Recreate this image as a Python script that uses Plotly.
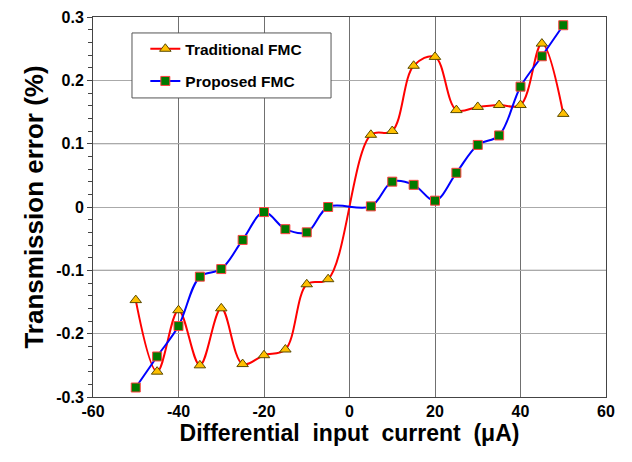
import plotly.graph_objects as go

x_vals = [-50, -45, -40, -35, -30, -25, -20, -15, -10, -5, 5, 10, 15, 20, 25, 30, 35, 40, 45, 50]
traditional = [-0.147, -0.26, -0.163, -0.25, -0.16, -0.248, -0.234, -0.225, -0.122, -0.114,
               0.114, 0.12, 0.223, 0.237, 0.153, 0.158, 0.161, 0.161, 0.258, 0.147]
proposed = [-0.285, -0.236, -0.188, -0.11, -0.098, -0.052, -0.008, -0.035, -0.04, 0.0,
            0.001, 0.04, 0.035, 0.01, 0.054, 0.098, 0.113, 0.19, 0.238, 0.287]

x_ticks = [-60, -40, -20, 0, 20, 40, 60]
y_ticks = [-0.3, -0.2, -0.1, 0, 0.1, 0.2, 0.3]
y_labels = ["-0.3", "-0.2", "-0.1", "0", "0.1", "0.2", "0.3"]
dark_y_grid = [-0.1, 0.1]

font_family = "Liberation Sans, Arial, sans-serif"

fig = go.Figure()
fig.add_trace(go.Scatter(
    x=x_vals, y=traditional, name="Traditional FMC", mode="lines+markers",
    legendgroup="a",
    line=dict(color="#FF0000", width=2, shape="spline", smoothing=1.0),
    marker=dict(symbol="triangle-up", size=10, color="#FFC000",
                line=dict(color="#5a4a00", width=1)),
))
fig.add_trace(go.Scatter(
    x=x_vals, y=proposed, name="Proposed FMC", mode="lines+markers",
    legendgroup="b",
    line=dict(color="#0000FF", width=2, shape="spline", smoothing=1.0),
    marker=dict(symbol="square", size=9, color="#007A00",
                line=dict(color="#FF4040", width=1)),
))

# darker horizontal grid lines
for gy in dark_y_grid:
    fig.add_shape(type="line", xref="paper", yref="y", x0=0, x1=1, y0=gy, y1=gy,
                  line=dict(color="#555555", width=1), layer="below")

# legend frame
fig.add_shape(type="rect", xref="paper", yref="paper",
              x0=0.076, x1=0.464, y0=0.787, y1=0.958,
              fillcolor="white", line=dict(color="#555555", width=1), layer="above")

fig.update_layout(
    width=624, height=454,
    margin=dict(l=85, r=26, t=9, b=65),
    paper_bgcolor="white", plot_bgcolor="white",
    font=dict(family=font_family, color="black"),
    showlegend=True,
    legend=dict(x=0.102, y=0.96, xanchor="left", yanchor="top",
                bgcolor="rgba(0,0,0,0)", borderwidth=0,
                font=dict(size=15.5, family=font_family, color="black", weight="bold"),
                tracegroupgap=9, itemwidth=30),
)
fig.update_xaxes(
    range=[-60, 60], tickvals=x_ticks, ticktext=[str(t) for t in x_ticks],
    tickfont=dict(size=16, weight="bold"), showgrid=True, gridcolor="#707070", gridwidth=1,
    showline=True, linecolor="#444444", linewidth=1, mirror=True,
    zeroline=False, ticks="", automargin=False,
    title=dict(text="Differential&nbsp;&nbsp;input&nbsp;&nbsp;current&nbsp;&nbsp;(μA)",
               font=dict(size=23, weight="bold"), standoff=4),
)
fig.update_yaxes(
    range=[-0.3, 0.3], tickvals=y_ticks, ticktext=y_labels,
    tickfont=dict(size=16, weight="bold"), showgrid=True, gridcolor="#aaaaaa", gridwidth=1,
    showline=True, linecolor="#444444", linewidth=1, mirror=True,
    zeroline=False, ticks="outside", ticklen=5, tickcolor="#444444", automargin=False,
    minor=dict(dtick=0.02, ticks="outside", ticklen=4, tickcolor="#444444", showgrid=False),
    title=dict(text="Transmission error (%)", font=dict(size=26, weight="bold"), standoff=5),
)

fig.write_html("out.html")
